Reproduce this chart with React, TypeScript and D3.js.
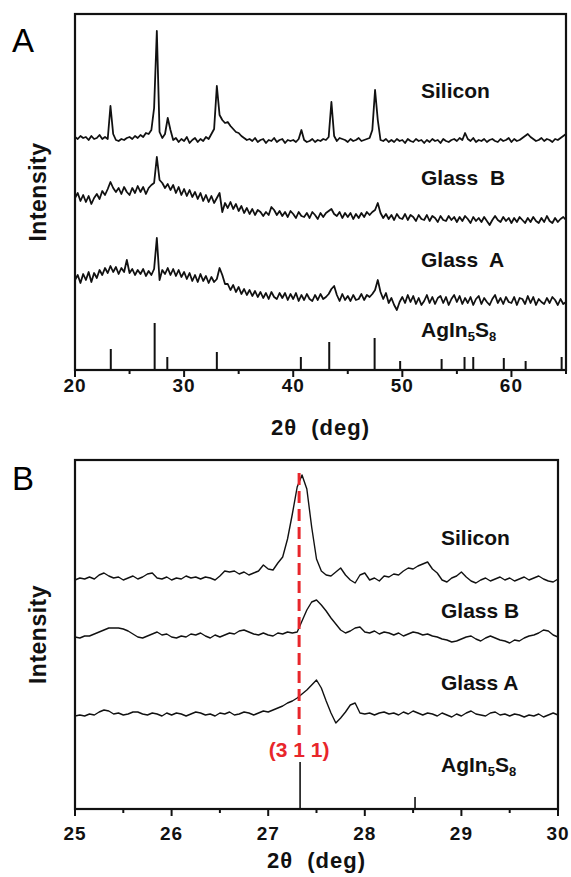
import React from "react";
import * as d3 from "d3";

// ---------- Panel A data (2θ from 20 to 65, step 0.25) ----------
const A_START = 20;
const A_STEP = 0.25;
const siliconA = [
  233,231,234,232, 233,230,234,231, 232,235,231,233, 231,264,236,230,
  229,231,230,232, 233,231,234,232, 235,233,237,236, 240,262,339,238,
  232,236,252,240, 230,232,228,231, 229,233,227,230, 232,228,231,229,
  233,231,236,241, 284,255,250,247, 248,244,241,238, 237,234,232,230,
  231,229,232,228, 230,231,227,230, 229,232,228,230, 231,227,230,229,
  230,228,231,240, 230,228,229,231, 228,230,229,231, 230,233,268,234,
  229,232,231,230, 228,231,229,230, 232,229,230,231, 232,240,280,250,
  230,229,231,228, 230,228,231,229, 230,227,231,229, 228,231,229,230,
  227,230,228,231, 229,230,227,231, 229,228,230,231, 229,232,230,237,
  231,229,232,228, 230,229,231,228, 230,231,229,228, 231,229,230,232,
  228,231,229,230, 232,234,236,233, 231,229,230,232, 229,231,230,228,
  231,230,232,234, 236,
];
const glassBA = [
  172,177,169,175, 168,174,166,172, 176,171,179,175, 181,188,182,178,
  182,176,183,178, 175,182,177,184, 178,183,176,182, 185,187,213,190,
  187,182,186,180, 185,177,183,175, 181,174,180,173, 178,171,177,169,
  175,168,174,167, 172,177,158,167, 162,168,161,166, 159,164,157,162,
  156,161,155,160, 158,154,158,155, 163,160,155,159, 154,158,153,159,
  156,152,158,154, 153,157,152,158, 155,151,157,153, 157,159,161,156,
  154,158,152,157, 153,157,151,156, 152,157,153,158, 155,158,160,167,
  157,152,156,151, 155,150,156,152, 151,156,150,155, 153,149,155,151,
  150,155,149,154, 152,148,154,150, 149,154,150,153, 148,153,149,154,
  151,147,153,149, 152,148,153,149, 145,150,154,150, 148,153,149,152,
  147,152,148,153, 150,147,152,148, 153,149,147,152, 148,154,149,147,
  152,148,151,153, 150,
];
const glassAA = [
  90,95,87,96, 90,98,88,97, 92,100,95,102, 97,104,98,103,
  96,102,98,110, 97,101,95,100, 96,101,94,99, 95,101,132,90,
  100,96,102,95, 101,94,100,93, 98,91,97,89, 95,88,96,89,
  94,87,93,88, 91,102,95,86, 86,80,85,78, 83,76,81,75,
  80,74,79,73, 78,72,77,71, 78,73,71,77, 72,77,70,76,
  71,77,69,75, 70,76,71,69, 75,70,76,71, 73,76,81,84,
  75,69,76,70, 74,69,75,70, 71,76,70,75, 73,76,80,90,
  78,71,77,67, 72,65,60,68, 73,67,75,68, 74,66,72,65,
  69,75,67,73, 66,72,74,67, 73,65,71,75, 68,74,66,72,
  67,73,65,71, 74,66,72,68, 65,71,75,67, 72,66,73,68,
  67,73,65,72, 71,66,74,67, 73,65,71,68, 66,72,67,73,
  70,65,71,66, 68,
];
const stickPosA = [23.28, 27.3, 28.46, 33.0, 40.7, 43.3, 47.46, 49.8, 53.6, 55.7, 56.5, 59.3, 61.3, 64.6];
const stickIntA = [21, 47, 13, 18, 13, 28, 32, 9, 11, 13, 13, 12, 9, 13];
const ticksA = [20, 30, 40, 50, 60];
const minorTicksA = [25, 35, 45, 55, 65];

// ---------- Panel B data (2θ from 25 to 30, step 0.05) ----------
const B_START = 25;
const B_STEP = 0.05;
const siliconB = [
  229,231,230,232,230,234,236,233,231,232,229,231,233,230,232,235,236,231,230,232,
  229,231,230,233,231,232,230,232,231,229,233,238,237,238,235,237,234,236,238,244,
  240,239,246,252,270,295,322,334,320,282,250,238,234,233,237,241,234,229,226,234,
  236,229,231,228,233,232,235,234,238,241,240,243,245,247,240,236,229,227,231,233,
  237,232,228,226,229,231,228,230,232,229,231,228,230,232,229,231,233,230,228,227,
  230,
];
const glassBB = [
  172,171,173,173,175,177,179,181,181,181,180,178,175,172,171,173,175,177,174,175,
  172,171,173,172,175,174,176,173,171,174,172,174,176,175,178,179,177,175,174,176,
  174,173,176,175,177,176,177,188,199,207,209,204,198,191,185,179,176,178,181,182,
  177,176,178,175,177,176,174,176,173,175,177,176,174,175,173,172,170,169,167,168,
  170,172,173,170,168,171,173,171,169,168,166,169,168,171,173,174,176,179,178,174,
  172,
];
const glassAB = [
  93,94,93,95,94,97,99,98,95,96,94,95,97,97,95,94,96,95,93,96,
  94,96,95,93,95,97,96,94,95,93,96,95,97,94,95,97,96,94,96,98,
  97,99,101,103,106,108,111,115,119,124,129,121,108,96,86,91,97,104,106,96,
  95,96,94,96,97,95,96,94,97,95,98,96,94,96,95,93,96,94,92,95,
  93,96,98,95,94,93,96,97,94,95,93,95,94,92,94,93,95,92,94,96,
  94,
];
const stickPosB = [27.33, 28.52];
const stickIntB = [47, 12];
const ticksB = [25, 26, 27, 28, 29, 30];
const minorTicksB = [25.5, 26.5, 27.5, 28.5, 29.5];
const peakLabel = "(3 1 1)";
const peakPos = 27.32;

const FONT = "'Liberation Sans', Arial, Helvetica, sans-serif";

type Pt = [number, number];
const toPts = (vals: number[], start: number, step: number): Pt[] =>
  vals.map((v, i) => [start + i * step, v]);

function Panel(props: {
  letter: string;
  letterY: number;
  xDomain: [number, number];
  xRange: [number, number];
  yTop: number;
  yBottom: number;
  yMax: number;
  series: { vals: number[]; label: string; labelY: number }[];
  start: number;
  step: number;
  sticks: number[];
  stickInt: number[];
  refLabelY: number;
  labelX: number;
  ticks: number[];
  minor: number[];
  tickLabelY: number;
  titleY: number;
  lineWidth: number;
  stickWidth: number;
  children?: React.ReactNode;
}) {
  const x = d3.scaleLinear().domain(props.xDomain).range(props.xRange);
  const y = d3.scaleLinear().domain([0, props.yMax]).range([props.yBottom, props.yTop]);
  const line = d3
    .line<Pt>()
    .x((d) => x(d[0]))
    .y((d) => y(d[1]));
  const [x0, x1] = props.xRange;
  const cx = (x0 + x1) / 2;
  const midY = (props.yTop + props.yBottom) / 2;
  return (
    <g>
      <text x={12} y={props.letterY} fontFamily={FONT} fontSize={33} fill="#000">
        {props.letter}
      </text>
      {props.series.map((s, i) => (
        <path
          key={i}
          d={line(toPts(s.vals, props.start, props.step)) || ""}
          fill="none"
          stroke="#111"
          strokeWidth={props.lineWidth}
          strokeLinejoin="round"
        />
      ))}
      {props.sticks.map((p, i) => (
        <line
          key={i}
          x1={x(p)}
          x2={x(p)}
          y1={y(0)}
          y2={y(props.stickInt[i])}
          stroke="#111"
          strokeWidth={props.stickWidth}
        />
      ))}
      {props.children}
      <rect
        x={x0}
        y={props.yTop}
        width={x1 - x0}
        height={props.yBottom - props.yTop}
        fill="none"
        stroke="#111"
        strokeWidth={2.2}
      />
      {props.ticks.map((t) => (
        <g key={t}>
          <line x1={x(t)} x2={x(t)} y1={props.yBottom} y2={props.yBottom + 7} stroke="#111" strokeWidth={2} />
          <text
            x={x(t)}
            y={props.tickLabelY}
            textAnchor="middle"
            fontFamily={FONT}
            fontWeight="bold"
            fontSize={19}
            letterSpacing={1}
            fill="#111"
          >
            {t}
          </text>
        </g>
      ))}
      {props.minor.map((t) => (
        <line key={t} x1={x(t)} x2={x(t)} y1={props.yBottom} y2={props.yBottom + 4} stroke="#111" strokeWidth={2} />
      ))}
      <text
        x={cx}
        y={props.titleY}
        textAnchor="middle"
        fontFamily={FONT}
        fontWeight="bold"
        fontSize={22}
        letterSpacing={1}
        fill="#111"
        xmlSpace="preserve"
      >
        2θ  (deg)
      </text>
      <text
        transform={`translate(46,${midY}) rotate(-90)`}
        textAnchor="middle"
        fontFamily={FONT}
        fontWeight="bold"
        fontSize={23}
        letterSpacing={0.5}
        fill="#111"
      >
        Intensity
      </text>
      {props.series.map((s, i) => (
        <text
          key={i}
          x={props.labelX}
          y={s.labelY}
          fontFamily={FONT}
          fontWeight="bold"
          fontSize={21}
          fill="#111"
          xmlSpace="preserve"
        >
          {s.label}
        </text>
      ))}
      <text x={props.labelX} y={props.refLabelY} fontFamily={FONT} fontWeight="bold" fontSize={21} fill="#111">
        AgIn
        <tspan fontSize={13} dy={4}>5</tspan>
        <tspan dy={-4}>S</tspan>
        <tspan fontSize={13} dy={4}>8</tspan>
      </text>
    </g>
  );
}

export default function App() {
  const xB = d3.scaleLinear().domain([25, 30]).range([75, 558]);
  const yB = d3.scaleLinear().domain([0, 349]).range([809, 460]);
  return (
    <svg
      width={571}
      height={877}
      style={{ position: "absolute", left: 0, top: 0, background: "#fff" }}
    >
      <rect width={571} height={877} fill="#fff" />
      <Panel
        letter="A"
        letterY={52}
        xDomain={[20, 65]}
        xRange={[75, 566]}
        yTop={14}
        yBottom={370}
        yMax={356}
        series={[
          { vals: siliconA, label: "Silicon", labelY: 98 },
          { vals: glassBA, label: "Glass  B", labelY: 185 },
          { vals: glassAA, label: "Glass  A", labelY: 267 },
        ]}
        start={A_START}
        step={A_STEP}
        sticks={stickPosA}
        stickInt={stickIntA}
        refLabelY={337}
        labelX={421}
        ticks={ticksA}
        minor={minorTicksA}
        tickLabelY={392}
        titleY={435}
        lineWidth={1.8}
        stickWidth={2}
      />
      <Panel
        letter="B"
        letterY={490}
        xDomain={[25, 30]}
        xRange={[75, 558]}
        yTop={460}
        yBottom={809}
        yMax={349}
        series={[
          { vals: siliconB, label: "Silicon", labelY: 545 },
          { vals: glassBB, label: "Glass B", labelY: 618 },
          { vals: glassAB, label: "Glass A", labelY: 690 },
        ]}
        start={B_START}
        step={B_STEP}
        sticks={stickPosB}
        stickInt={stickIntB}
        refLabelY={772}
        labelX={441}
        ticks={ticksB}
        minor={minorTicksB}
        tickLabelY={840}
        titleY={868}
        lineWidth={1.4}
        stickWidth={1.6}
      >
        <line
          x1={xB(peakPos)}
          x2={xB(peakPos)}
          y1={yB(336)}
          y2={yB(74)}
          stroke="#e8262b"
          strokeWidth={3}
          strokeDasharray="12,6"
        />
        <text
          x={xB(peakPos)}
          y={757}
          textAnchor="middle"
          fontFamily={FONT}
          fontWeight="bold"
          fontSize={21}
          fill="#e8262b"
        >
          {peakLabel}
        </text>
      </Panel>
    </svg>
  );
}
